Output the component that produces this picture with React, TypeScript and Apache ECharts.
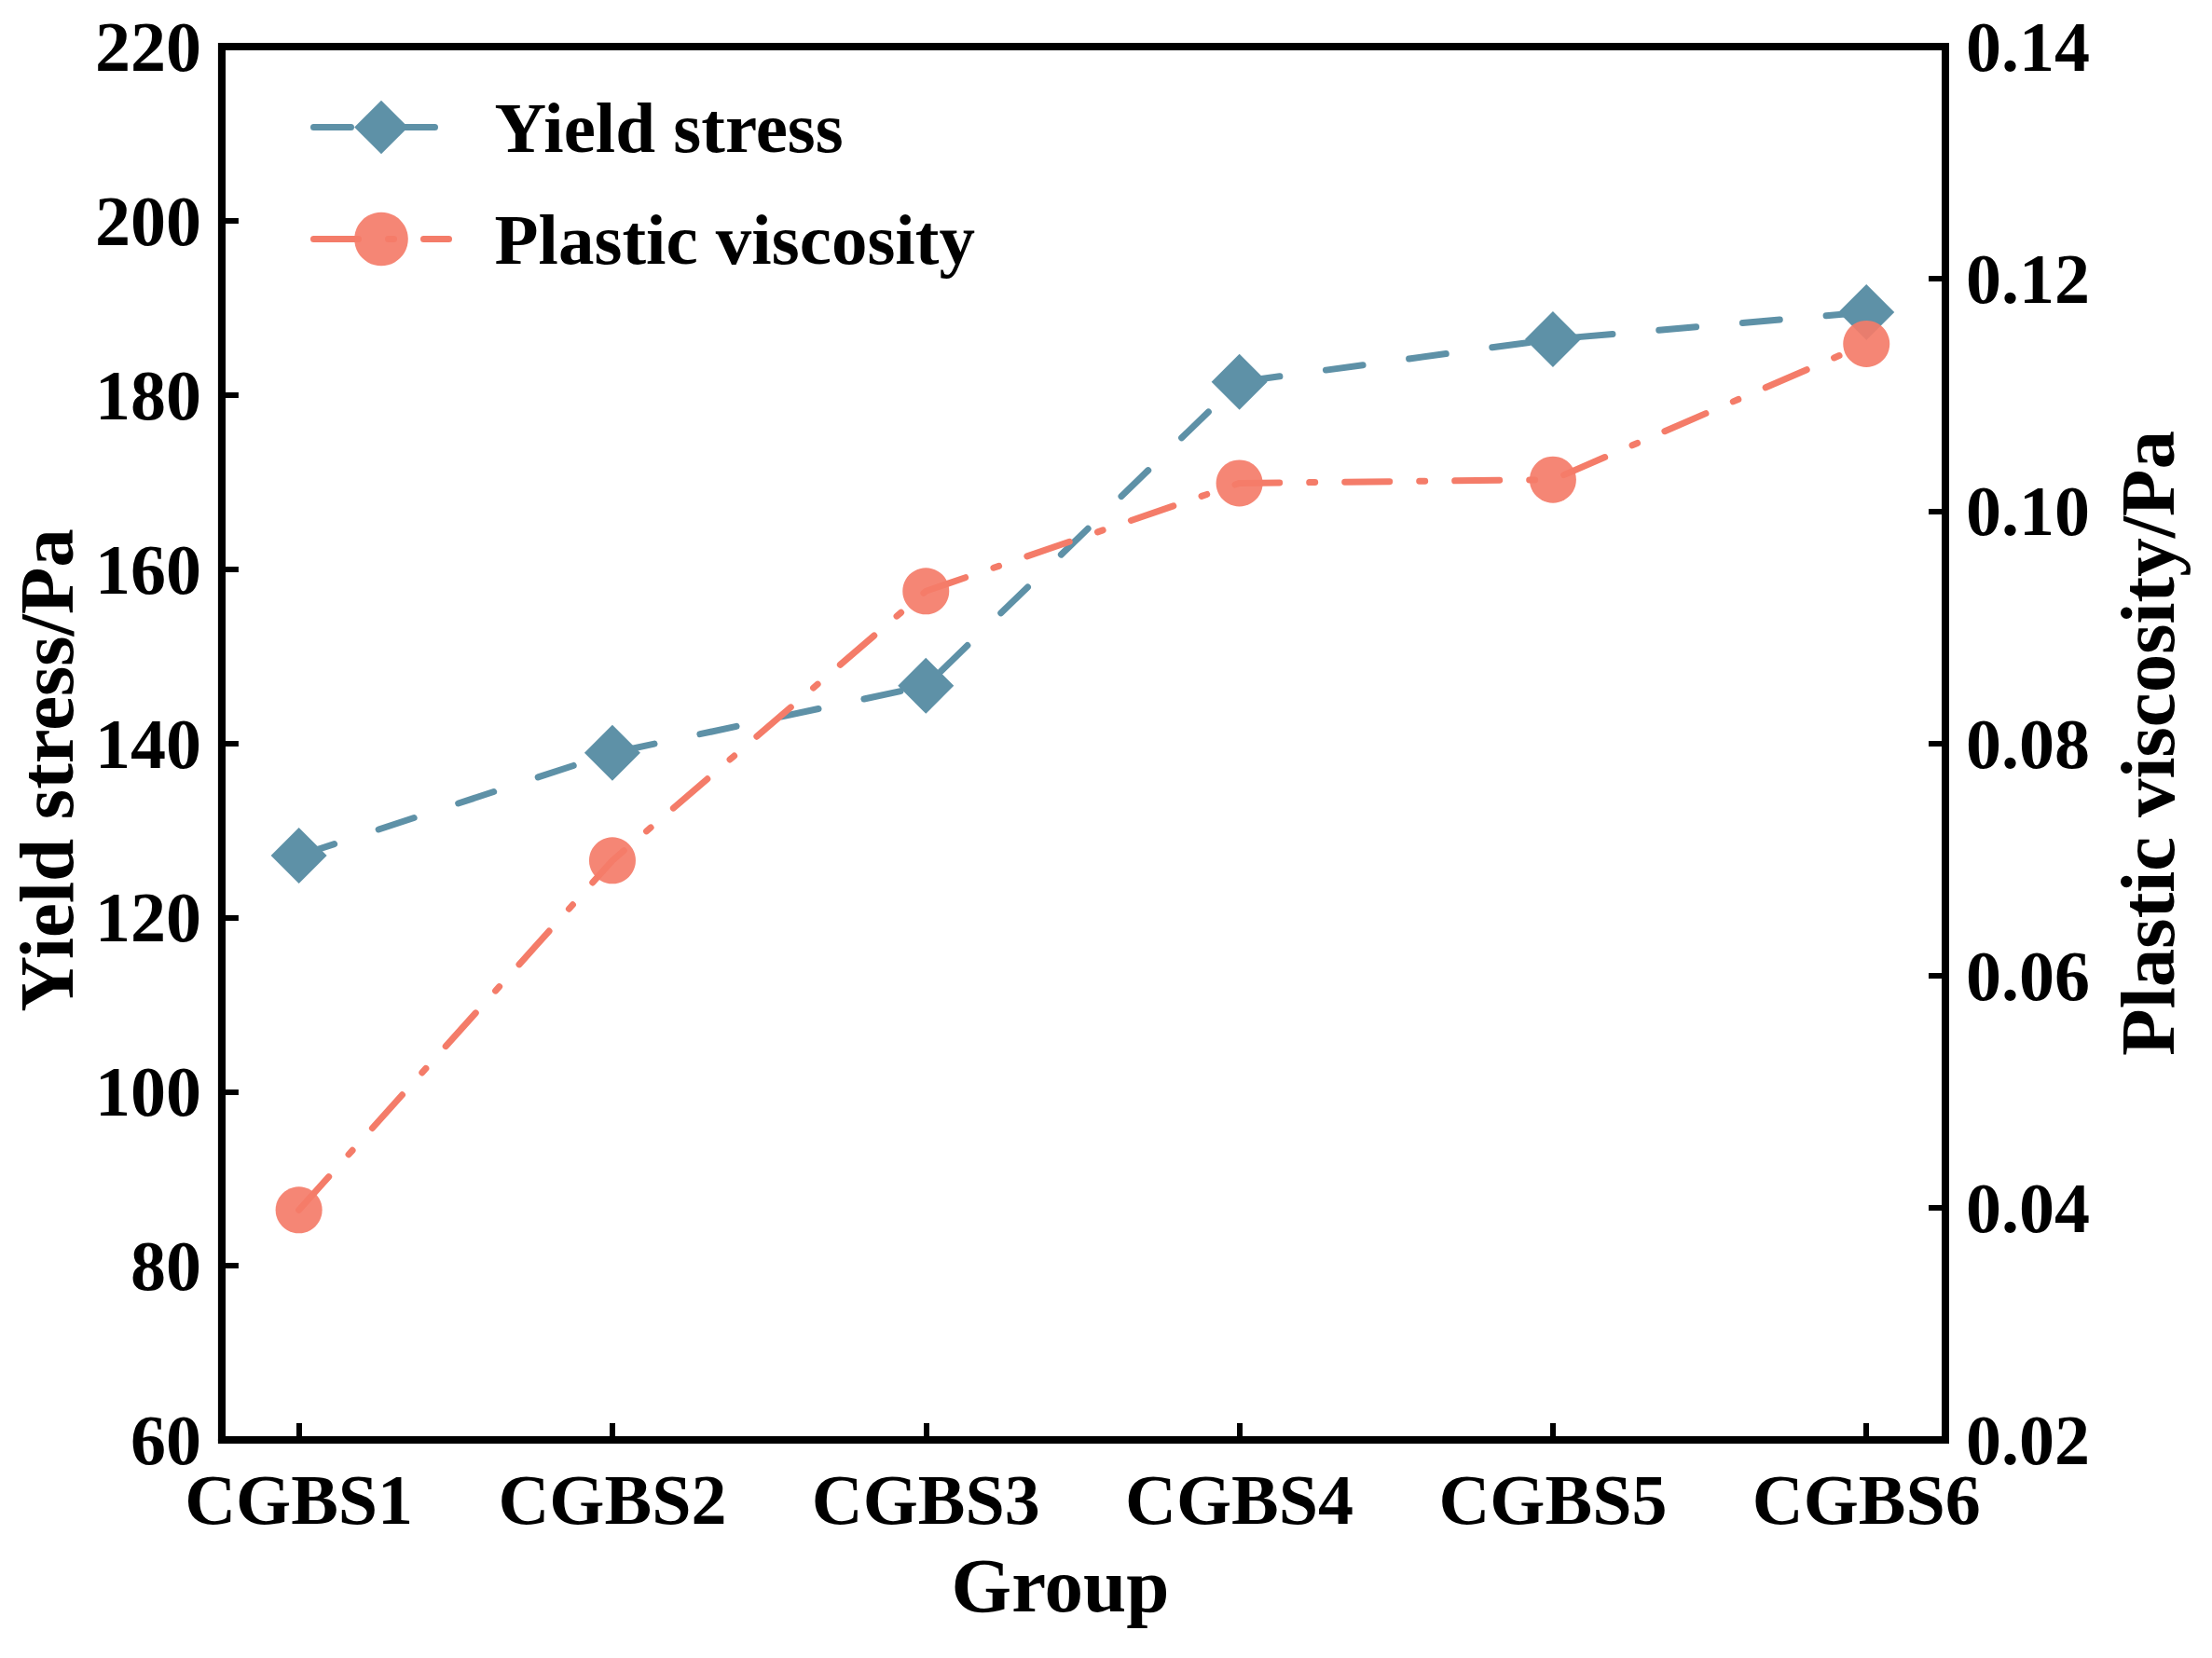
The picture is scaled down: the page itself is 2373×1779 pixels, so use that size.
import React, { useEffect, useRef } from "react";
import * as echarts from "echarts";

const categories = ["CGBS1", "CGBS2", "CGBS3", "CGBS4", "CGBS5", "CGBS6"];
const yieldStress = [127.1, 138.9, 146.6, 181.5, 186.4, 189.5];
const plasticViscosity = [0.0398, 0.0699, 0.0931, 0.1024, 0.1027, 0.1144];
const seriesNames = ["Yield stress", "Plastic viscosity"];
const xTickValues = [0, 1, 2, 3, 4, 5];

const FONT = "Liberation Serif";
const BLUE = "#5E91A7";
const SALMON = "#F47C69";

export default function App() {
  const ref = useRef<HTMLDivElement>(null);
  useEffect(() => {
    document.body.style.margin = "0";
    if (!ref.current) return;
    const chart = echarts.init(ref.current, undefined, { renderer: "svg" });
    const labelStyle = {
      fontFamily: FONT,
      fontWeight: "bold" as const,
      fontSize: 76,
      color: "#000",
    };
    const nameStyle = {
      fontFamily: FONT,
      fontWeight: "bold" as const,
      fontSize: 83,
      color: "#000",
    };
    const tickStyle = {
      show: true,
      inside: true,
      length: 18,
      lineStyle: { color: "#000", width: 6 },
    };
    const axisLineStyle = {
      show: true,
      onZero: false,
      lineStyle: { color: "#000", width: 8 },
    };
    chart.setOption({
      animation: false,
      backgroundColor: "#fff",
      grid: {
        left: 231,
        right: 286,
        top: 50,
        bottom: 234,
        show: true,
        borderColor: "#000",
        borderWidth: 8,
        backgroundColor: "transparent",
      },
      legend: {
        orient: "vertical",
        left: 333,
        top: 98,
        padding: 0,
        itemWidth: 145,
        itemHeight: 72,
        itemGap: 43,
        data: seriesNames,
        lineStyle: { width: 7 },
        textStyle: {
          fontFamily: FONT,
          fontWeight: "bold",
          fontSize: 77,
          color: "#000",
          padding: [0, 0, 0, 44],
        },
      },
      xAxis: {
        type: "value",
        min: -0.246,
        max: 5.252,
        name: "Group",
        nameLocation: "middle",
        nameGap: 114,
        nameTextStyle: { ...nameStyle, padding: [0, 50, 0, 0] },
        splitLine: { show: false },
        axisLine: axisLineStyle,
        axisTick: { ...tickStyle, customValues: xTickValues },
        axisLabel: {
          ...labelStyle,
          margin: 26,
          customValues: xTickValues,
          formatter: (v: number) => categories[Math.round(v)] ?? "",
        },
      },
      yAxis: [
        {
          type: "value",
          min: 60,
          max: 220,
          interval: 20,
          position: "left",
          name: "Yield stress/Pa",
          nameLocation: "middle",
          nameRotate: 90,
          nameGap: 137,
          nameTextStyle: { ...nameStyle, padding: [0, 58, 0, 0] },
          splitLine: { show: false },
          axisLine: axisLineStyle,
          axisTick: tickStyle,
          axisLabel: { ...labelStyle, margin: 22 },
        },
        {
          type: "value",
          min: 0.02,
          max: 0.14,
          interval: 0.02,
          position: "right",
          name: "Plastic viscosity/Pa",
          nameLocation: "middle",
          nameRotate: 90,
          nameGap: 175,
          nameTextStyle: nameStyle,
          splitLine: { show: false },
          axisLine: axisLineStyle,
          axisTick: tickStyle,
          axisLabel: {
            ...labelStyle,
            margin: 22,
            formatter: (v: number) => v.toFixed(2),
          },
        },
      ],
      series: [
        {
          name: seriesNames[0],
          type: "line",
          yAxisIndex: 0,
          data: yieldStress.map((v, i) => [i, v]),
          symbol: "diamond",
          symbolSize: 60,
          itemStyle: { color: BLUE },
          lineStyle: { color: BLUE, width: 7, type: [40, 50], cap: "round" },
          z: 2,
        },
        {
          name: seriesNames[1],
          type: "line",
          yAxisIndex: 1,
          data: plasticViscosity.map((v, i) => [i, v]),
          symbol: "circle",
          symbolSize: 50,
          itemStyle: { color: SALMON, opacity: 0.92 },
          lineStyle: {
            color: SALMON,
            width: 7,
            type: [48, 32, 6, 32],
            cap: "round",
          },
          z: 3,
        },
      ],
    });
    return () => chart.dispose();
  }, []);
  return <div ref={ref} style={{ width: 2373, height: 1779 }} />;
}
